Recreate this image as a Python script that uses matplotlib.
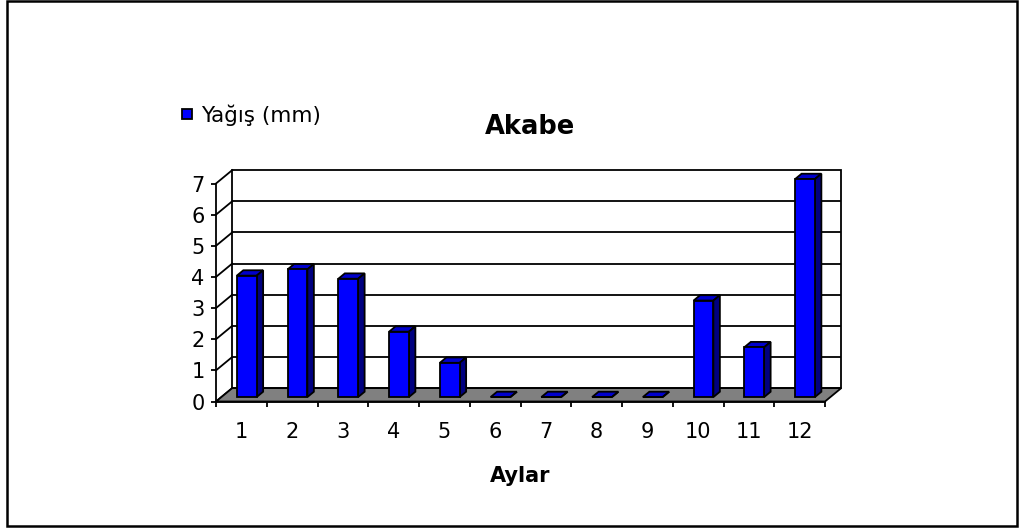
import matplotlib
matplotlib.use("Agg")
import matplotlib.pyplot as plt
from matplotlib.patches import Polygon, Rectangle
import numpy as np

months = [1, 2, 3, 4, 5, 6, 7, 8, 9, 10, 11, 12]
rain_mm = [3.9, 4.1, 3.8, 2.1, 1.1, 0.0, 0.0, 0.0, 0.0, 3.1, 1.6, 7.0]
y_ticks = [0, 1, 2, 3, 4, 5, 6, 7]
title = "Akabe"
series_label = "Yağış (mm)"
x_label = "Aylar"

FACE = "#0000FF"
TOP = "#0000CC"
SIDE = "#000080"
FLOOR = "#808080"
DX, DY = 0.32, 0.43   # back wall depth offset (category units, mm units)
F0, D = 0.33, 0.40    # bar front depth fraction, bar depth fraction
BAR_W = 0.39
LW = 1.3

W, H = 1023, 532
fig = plt.figure(figsize=(W / 100, H / 100), dpi=100)
ax = fig.add_axes([216 / W, 130.5 / H, 609 / W, 218 / H])
ax.patch.set_visible(False)

x = np.array(months, dtype=float)
vals = np.array(rain_mm, dtype=float)
x0, x1 = 0.5, len(months) + 0.5
ymax = y_ticks[-1]
ax.set_xlim(x0, x1)
ax.set_ylim(0, ymax)

# back wall, gridlines and side-wall diagonals
ax.add_patch(Rectangle((x0 + DX, DY), x1 - x0, ymax, facecolor="white",
                       edgecolor="black", lw=LW, zorder=1, clip_on=False))
for t in y_ticks[1:-1]:
    ax.plot([x0 + DX, x1 + DX], [t + DY, t + DY], color="black", lw=LW,
            zorder=1.1, clip_on=False, solid_capstyle="butt")
for t in y_ticks:
    ax.plot([x0, x0 + DX], [t, t + DY], color="black", lw=LW, zorder=1.1,
            clip_on=False)

# floor
ax.add_patch(Polygon([(x0, 0), (x1, 0), (x1 + DX, DY), (x0 + DX, DY)],
                     closed=True, facecolor=FLOOR, edgecolor="black", lw=LW,
                     zorder=2, clip_on=False))

# bars: front face from ax.bar, top and side faces as polygons
base = F0 * DY
bars = ax.bar(x + F0 * DX, vals, width=BAR_W, bottom=base, color=FACE,
              edgecolor="black", lw=LW, zorder=4, label=series_label,
              clip_on=False)
for b, v in zip(bars, vals):
    xl = b.get_x()
    xr = xl + b.get_width()
    top = base + v
    ax.add_patch(Polygon([(xl, top), (xr, top), (xr + D * DX, top + D * DY),
                          (xl + D * DX, top + D * DY)], closed=True,
                         facecolor=TOP, edgecolor="black", lw=LW, zorder=3,
                         clip_on=False))
    ax.add_patch(Polygon([(xr, base), (xr, top), (xr + D * DX, top + D * DY),
                          (xr + D * DX, base + D * DY)], closed=True,
                         facecolor=SIDE, edgecolor="black", lw=LW, zorder=3,
                         clip_on=False))

# axes, ticks and labels
for s in ("top", "right"):
    ax.spines[s].set_visible(False)
for s in ("left", "bottom"):
    ax.spines[s].set_linewidth(LW)
    ax.spines[s].set_zorder(5)

ax.set_xticks(np.arange(x0, x1 + 0.01, 1.0))
ax.set_xticklabels([])
ax.set_xticks(x, minor=True)
ax.set_xticklabels([str(m) for m in months], minor=True)
ax.tick_params(axis="x", which="major", length=3.6, width=LW, direction="out")
ax.tick_params(axis="x", which="minor", length=0, pad=15, labelsize=15)
ax.set_yticks(y_ticks)
ax.set_yticklabels([str(t) for t in y_ticks])
ax.tick_params(axis="y", length=3.6, width=LW, pad=4.5, labelsize=15)

ax.set_xlabel(x_label, fontsize=15, fontweight="bold")
ax.xaxis.set_label_coords(0.5, (401.5 - 482) / 218)
ax.xaxis.label.set_va("baseline")

fig.text(530 / W, 1 - 134 / H, title, ha="center", va="baseline",
         fontsize=18.5, fontweight="bold")

ax.legend(handles=[bars], labels=[series_label], loc="center left",
          bbox_to_anchor=(182 / W, 1 - 115 / H), bbox_transform=fig.transFigure,
          frameon=False, fontsize=15.5, handlelength=0.48, handleheight=0.36,
          handletextpad=0.4, borderpad=0, borderaxespad=0)

fig.patches.append(Rectangle((7 / W, 1 - 526 / H), 1010 / W, 525 / H,
                             transform=fig.transFigure, fill=False,
                             edgecolor="black", lw=1.8))

fig.savefig("out.png", dpi=100)
